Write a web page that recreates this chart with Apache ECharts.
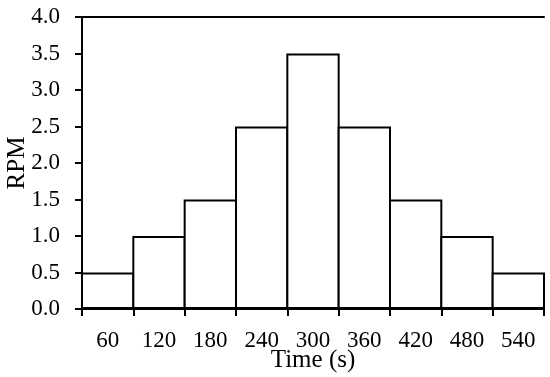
<!DOCTYPE html>
<html>
<head>
<meta charset="utf-8">
<script src="https://cdn.jsdelivr.net/npm/echarts@6/dist/echarts.min.js"></script>
<style>
  html, body { margin: 0; padding: 0; background: #fff; }
  #chart { width: 550px; height: 377px; }
</style>
</head>
<body>
<div id="chart"></div>
<script>
var timeLabels = ['60', '120', '180', '240', '300', '360', '420', '480', '540'];
var rpmValues = [0.5, 1.0, 1.5, 2.5, 3.5, 2.5, 1.5, 1.0, 0.5];

var chart = echarts.init(document.getElementById('chart'));
var font = 'Liberation Serif';
var lineStyle = { color: '#000', width: 2 };
var gridW = 550 - 82 - 6;

var option = {
    animation: false,
    backgroundColor: '#fff',
    grid: { left: 82, right: 6, top: 17, bottom: 68, containLabel: false, outerBoundsMode: 'none' },
    xAxis: [{
        type: 'category',
        data: timeLabels,
        name: 'Time (s)',
        nameLocation: 'middle',
        nameGap: 51,
        nameMoveOverlap: false,
        nameTextStyle: { fontFamily: font, fontSize: 25, color: '#000', verticalAlign: 'middle' },
        axisLine: { lineStyle: lineStyle },
        axisTick: { show: true, length: 7, inside: false, lineStyle: lineStyle },
        axisLabel: { fontFamily: font, fontSize: 23, color: '#000', margin: 20 },
        splitLine: { show: false }
    }, {
        type: 'category',
        position: 'top',
        data: timeLabels,
        axisLine: { lineStyle: lineStyle },
        axisTick: { show: false },
        axisLabel: { show: false },
        splitLine: { show: false }
    }],
    yAxis: {
        type: 'value',
        min: 0,
        max: 4,
        interval: 0.5,
        name: 'RPM',
        nameLocation: 'middle',
        nameGap: 65,
        nameMoveOverlap: false,
        nameTextStyle: { fontFamily: font, fontSize: 25, color: '#000', verticalAlign: 'middle' },
        axisLine: { show: true, lineStyle: lineStyle },
        axisTick: { show: true, length: 7, lineStyle: lineStyle },
        axisLabel: {
            fontFamily: font, fontSize: 23, color: '#000', margin: 22,
            formatter: function(v) { return v.toFixed(1); }
        },
        splitLine: { show: false }
    },
    series: [{
        type: 'bar',
        data: rpmValues,
        // echarts insets the rect by half the border, widen so neighbours share one line
        barWidth: gridW / timeLabels.length + 2,
        itemStyle: { color: '#fff', borderColor: '#000', borderWidth: 2 }
    }]
};
chart.setOption(option);
</script>
</body>
</html>
